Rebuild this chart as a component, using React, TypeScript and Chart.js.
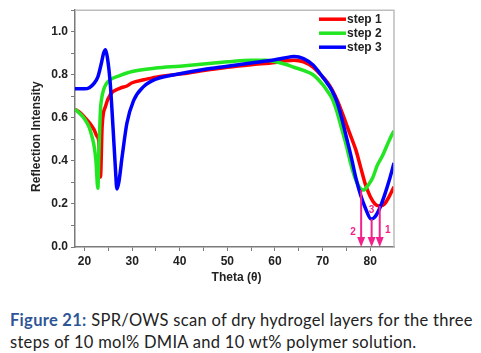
import React, { useEffect, useRef } from 'react';
import { Chart, registerables } from 'chart.js';

Chart.register(...registerables);

// ---- data ----
const step1Theta = [18, 19, 20, 21, 22, 22.6, 23.0, 23.35, 23.7, 24.4, 25.4, 27.5, 28.9, 30, 32.5, 35, 40, 45, 50, 55, 60, 62, 64, 66, 68, 70, 71, 72, 73, 74, 75, 76, 77, 78, 79, 80, 81, 82, 83, 84, 85];
const step1Values = [0.64, 0.625, 0.603, 0.578, 0.545, 0.515, 0.49, 0.325, 0.56, 0.653, 0.707, 0.738, 0.748, 0.763, 0.777, 0.789, 0.803, 0.82, 0.835, 0.847, 0.857, 0.864, 0.868, 0.86, 0.835, 0.79, 0.765, 0.73, 0.685, 0.63, 0.57, 0.51, 0.45, 0.37, 0.29, 0.235, 0.2, 0.19, 0.2, 0.235, 0.28];

const step2Theta = [18, 19, 20, 21, 21.6, 22.0, 22.4, 22.8, 23.0, 23.35, 23.6, 24.0, 24.5, 25.4, 27.5, 30, 35, 40, 45, 50, 55, 58, 60, 62, 64, 66, 68, 70, 71, 72, 73, 74, 75, 76, 77, 78, 78.7, 79.5, 80.5, 81.5, 82.5, 83.5, 84.3, 85];
const step2Values = [0.64, 0.62, 0.595, 0.555, 0.51, 0.47, 0.4, 0.273, 0.42, 0.637, 0.69, 0.73, 0.755, 0.777, 0.797, 0.815, 0.831, 0.84, 0.85, 0.86, 0.868, 0.868, 0.862, 0.85, 0.835, 0.82, 0.8, 0.755, 0.725, 0.69, 0.63, 0.55, 0.47, 0.38, 0.31, 0.27, 0.265, 0.285, 0.32, 0.38, 0.42, 0.47, 0.51, 0.54];

const step3Theta = [18, 20, 21, 22, 22.8, 23.5, 24.0, 24.4, 24.8, 25.4, 26.0, 26.5, 26.8, 27.2, 27.9, 28.9, 30.3, 32.4, 35, 40, 45, 50, 55, 60, 62, 64, 66, 68, 70, 71, 72, 73, 74, 75, 76, 77, 78, 79, 80.2, 81, 82, 83, 84, 85];
const step3Values = [0.735, 0.735, 0.74, 0.76, 0.79, 0.85, 0.9, 0.916, 0.88, 0.76, 0.55, 0.36, 0.27, 0.3, 0.42, 0.575, 0.68, 0.745, 0.78, 0.805, 0.825, 0.84, 0.855, 0.87, 0.878, 0.885, 0.875, 0.845, 0.79, 0.76, 0.725, 0.675, 0.6, 0.51, 0.42, 0.32, 0.24, 0.18, 0.13, 0.14, 0.18, 0.24, 0.31, 0.39];

const seriesLabels = ['step 1', 'step 2', 'step 3'];
const seriesColors = ['#ff0000', '#22e622', '#0000ff'];

const xTickValues = [20, 25, 30, 35, 40, 45, 50, 55, 60, 65, 70, 75, 80];
const xMin = 18;
const xMax = 85;
const yMin = 0;
const yMax = 1.1;

// resonance-minimum markers
const arrowTheta = [78.1, 80.3, 82.0];
const arrowFrom = [0.265, 0.13, 0.19];
const arrowLabels = ['2', '3', '1'];
const arrowLabelTheta = [76.4, 80.3, 83.7];
const arrowLabelValue = [0.07, 0.17, 0.08];

const xTitle = 'Theta (\u03b8)';
const yTitle = 'Reflection Intensity';

const FONT = '"Liberation Sans", Arial, Helvetica, sans-serif';
const AXIS_COLOR = '#7a7a7a';
const FRAME_COLOR = '#bdbdbd';
const TEXT_COLOR = '#222222';
const ARROW_COLOR = '#f2208a';

const decorPlugin = {
  id: 'decor',
  afterDatasetsDraw(chart: any) {
    const ctx = chart.ctx;
    const xs = chart.scales.x;
    const ys = chart.scales.y;
    const area = chart.chartArea;

    // arrows
    ctx.save();
    ctx.strokeStyle = ARROW_COLOR;
    ctx.fillStyle = ARROW_COLOR;
    ctx.lineWidth = 2;
    for (let i = 0; i < arrowTheta.length; i++) {
      const px = xs.getPixelForValue(arrowTheta[i]);
      const top = ys.getPixelForValue(arrowFrom[i]);
      const bottom = ys.getPixelForValue(0);
      ctx.beginPath();
      ctx.moveTo(px, top);
      ctx.lineTo(px, bottom - 8);
      ctx.stroke();
      ctx.beginPath();
      ctx.moveTo(px - 4, bottom - 10);
      ctx.lineTo(px + 4, bottom - 10);
      ctx.lineTo(px, bottom);
      ctx.closePath();
      ctx.fill();
    }
    ctx.font = 'bold 10px ' + FONT;
    ctx.textAlign = 'center';
    ctx.textBaseline = 'middle';
    for (let i = 0; i < arrowLabels.length; i++) {
      ctx.fillText(arrowLabels[i], xs.getPixelForValue(arrowLabelTheta[i]), ys.getPixelForValue(arrowLabelValue[i]));
    }
    ctx.restore();

    // legend
    ctx.save();
    const lx0 = area.right - 75;
    const lx1 = area.right - 48;
    ctx.font = 'bold 12px ' + FONT;
    ctx.textAlign = 'left';
    ctx.textBaseline = 'middle';
    chart.data.datasets.forEach((ds: any, i: number) => {
      const y = area.top + 9 + i * 14;
      ctx.strokeStyle = ds.borderColor;
      ctx.lineWidth = 3.5;
      ctx.beginPath();
      ctx.moveTo(lx0, y);
      ctx.lineTo(lx1, y);
      ctx.stroke();
      ctx.fillStyle = TEXT_COLOR;
      ctx.fillText(ds.label, lx1 + 1, y);
    });
    ctx.restore();
  },
  afterDraw(chart: any) {
    const ctx = chart.ctx;
    const area = chart.chartArea;
    ctx.save();
    // top and right frame
    ctx.strokeStyle = FRAME_COLOR;
    ctx.lineWidth = 1.5;
    ctx.beginPath();
    ctx.moveTo(area.left, area.top);
    ctx.lineTo(area.right, area.top);
    ctx.lineTo(area.right, area.bottom);
    ctx.stroke();

    // axis titles
    ctx.fillStyle = TEXT_COLOR;
    ctx.font = 'bold 12px ' + FONT;
    ctx.textAlign = 'center';
    ctx.textBaseline = 'middle';
    ctx.fillText(xTitle, (area.left + area.right) / 2 + 2, area.bottom + 31);
    ctx.translate(37, (area.top + area.bottom) / 2 + 8);
    ctx.rotate(-Math.PI / 2);
    ctx.fillText(yTitle, 0, 0);
    ctx.restore();
  },
};

function makeData(theta: number[], values: number[]) {
  return theta.map((t, i) => ({ x: t, y: values[i] }));
}

export default function App() {
  const canvasRef = useRef<HTMLCanvasElement | null>(null);

  useEffect(() => {
    const canvas = canvasRef.current;
    if (!canvas) return;
    const seriesTheta = [step1Theta, step2Theta, step3Theta];
    const seriesValues = [step1Values, step2Values, step3Values];
    const chart = new Chart(canvas, {
      type: 'line',
      data: {
        datasets: seriesLabels.map((label, i) => ({
          label,
          data: makeData(seriesTheta[i], seriesValues[i]),
          borderColor: seriesColors[i],
          backgroundColor: seriesColors[i],
          borderWidth: 3.5,
          pointRadius: 0,
          cubicInterpolationMode: 'monotone' as const,
          fill: false,
          order: 2 - i,
        })),
      },
      options: {
        responsive: false,
        animation: false,
        devicePixelRatio: 1,
        layout: { padding: { left: 0, right: 87, top: 10, bottom: 0 } },
        plugins: {
          legend: { display: false },
          tooltip: { enabled: false },
          title: { display: false },
        },
        scales: {
          x: {
            type: 'linear',
            min: xMin,
            max: xMax,
            afterBuildTicks: (scale: any) => {
              scale.ticks = xTickValues.map((v) => ({ value: v }));
            },
            afterFit: (scale: any) => {
              scale.height = 43;
            },
            ticks: {
              autoSkip: false,
              maxRotation: 0,
              padding: 3,
              color: TEXT_COLOR,
              font: { family: FONT, size: 12, weight: 'bold' },
              callback: (v: any) => (Number(v) % 10 === 0 ? String(v) : ''),
            },
            grid: {
              drawOnChartArea: false,
              drawTicks: true,
              tickLength: 4,
              color: AXIS_COLOR,
            },
            border: { display: true, color: AXIS_COLOR, width: 1.5 },
          },
          y: {
            type: 'linear',
            min: yMin,
            max: yMax,
            afterFit: (scale: any) => {
              scale.width = 75;
            },
            ticks: {
              stepSize: 0.1,
              autoSkip: false,
              padding: 3,
              color: TEXT_COLOR,
              font: { family: FONT, size: 12, weight: 'bold' },
              callback: (v: any) => {
                const n = Math.round(Number(v) * 10);
                return n % 2 === 0 && n <= 10 ? (n / 10).toFixed(1) : '';
              },
            },
            grid: {
              drawOnChartArea: false,
              drawTicks: true,
              tickLength: 4,
              color: AXIS_COLOR,
            },
            border: { display: true, color: AXIS_COLOR, width: 1.5 },
          },
        },
      } as any,
      plugins: [decorPlugin],
    });
    return () => chart.destroy();
  }, []);

  return (
    <div
      style={{
        position: 'absolute',
        left: 0,
        top: 0,
        width: 481,
        height: 353,
        background: '#ffffff',
        overflow: 'hidden',
      }}
    >
      <canvas ref={canvasRef} width={481} height={290} style={{ display: 'block', width: 481, height: 290 }} />
      <div
        style={{
          position: 'absolute',
          left: 10,
          top: 310,
          width: 475,
          fontFamily: 'Lato, "Open Sans", sans-serif',
          fontSize: 16.5,
          letterSpacing: '0.3px',
          lineHeight: '21.7px',
          color: '#222222',
          whiteSpace: 'nowrap',
        }}
      >
        <div>
          <span style={{ color: '#2f5597', fontWeight: 'bold' }}>Figure 21:</span> SPR/OWS scan of dry hydrogel layers for the three
        </div>
        <div>steps of 10 mol% DMIA and 10 wt% polymer solution.</div>
      </div>
    </div>
  );
}
